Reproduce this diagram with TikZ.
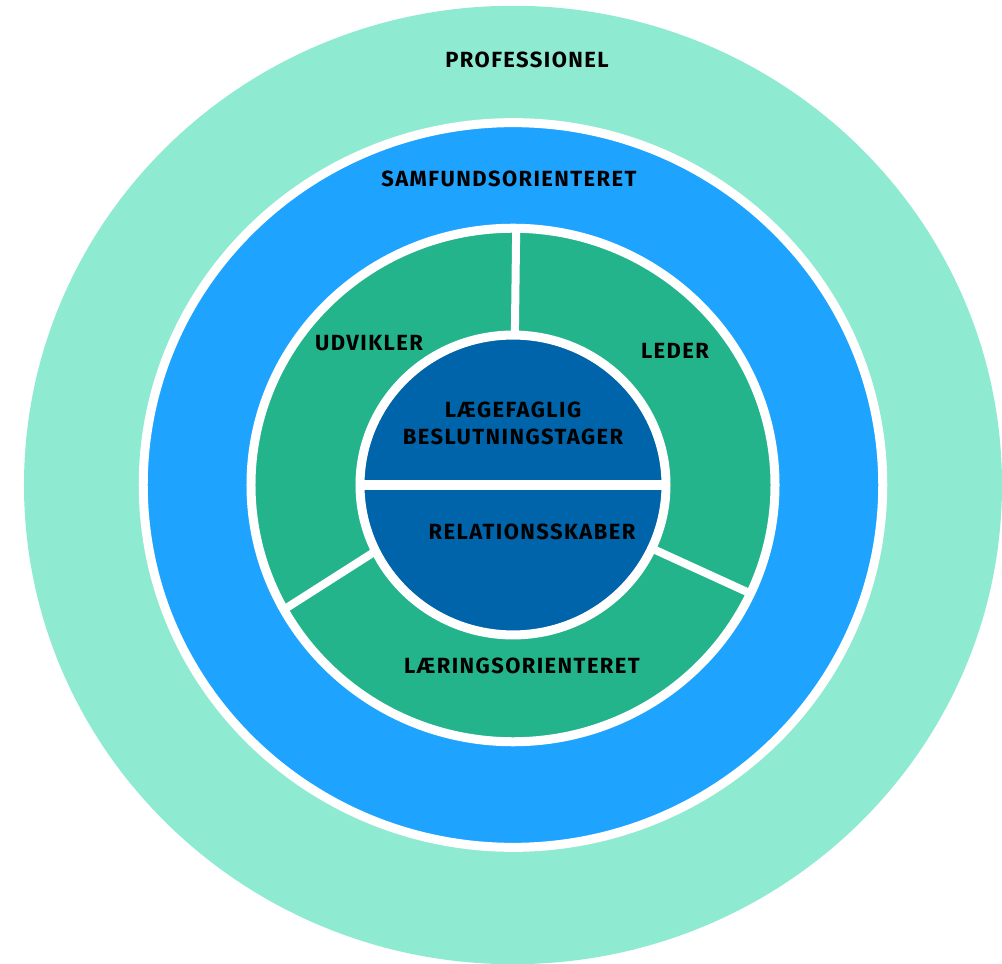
\documentclass[tikz,border=0pt]{standalone}
\usepackage{fontspec}
\setmainfont{Fira Sans}[LetterSpace=6.5]

\definecolor{mint}{RGB}{143,234,210}
\definecolor{skyblue}{RGB}{30,164,255}
\definecolor{leafgreen}{RGB}{35,180,140}
\definecolor{deepblue}{RGB}{0,100,170}

\tikzset{
    ring/.style={draw=white, line width=0.18cm},
    divider/.style={draw=white, line width=0.16cm},
    label/.style={font=\bfseries\fontsize{12.5}{15.3}\selectfont, text=black, align=center}
}

\begin{document}
\begin{tikzpicture}
    \clip (-10.26,-9.56) rectangle (9.78,9.70);
    \useasboundingbox (-10.26,-9.56) rectangle (9.78,9.70);

    % Rings
    \begin{scope}[yscale=0.98]
        \fill[fill=white] (-11,-11) rectangle (11,11);
        \fill[mint] (0,0) circle (9.78cm);
        \draw[ring, fill=skyblue] (0,0) circle (7.395cm);
        \draw[ring, fill=leafgreen] (0,0) circle (5.24cm);
        \draw[ring, fill=deepblue] (0,0) circle (3.06cm);

        % Dividers
        \coordinate (topin) at (89.3:3.0);
        \coordinate (topout) at (89.3:5.2);
        \coordinate (rightin) at (-25:3.0);
        \coordinate (rightout) at (-25:5.2);
        \coordinate (leftin) at (206:3.0);
        \coordinate (leftout) at (209:5.2);
        \coordinate (midleft) at (180:3.0);
        \coordinate (midright) at (0:3.0);
        \draw[divider] (topin) -- (topout);
        \draw[divider] (rightin) -- (rightout);
        \draw[divider] (leftin) -- (leftout);
        \draw[divider, line width=0.2cm] (midleft) -- (midright);
    \end{scope}

    % Labels
    \node[label] (prof) at (0.28,8.5) {PROFESSIONEL};
    \node[label] (samf) at (-0.08,6.12) {SAMFUNDSORIENTERET};
    \node[label] (udv) at (-2.88,2.84) {UDVIKLER};
    \node[label] (led) at (3.24,2.68) {LEDER};
    \node[label] (laege) at (0,1.23) {LÆGEFAGLIG\\BESLUTNINGSTAGER};
    \node[label] (rel) at (0.38,-0.94) {RELATIONSSKABER};
    \node[label] (laer) at (0.18,-3.62) {LÆRINGSORIENTERET};
\end{tikzpicture}
\end{document}
